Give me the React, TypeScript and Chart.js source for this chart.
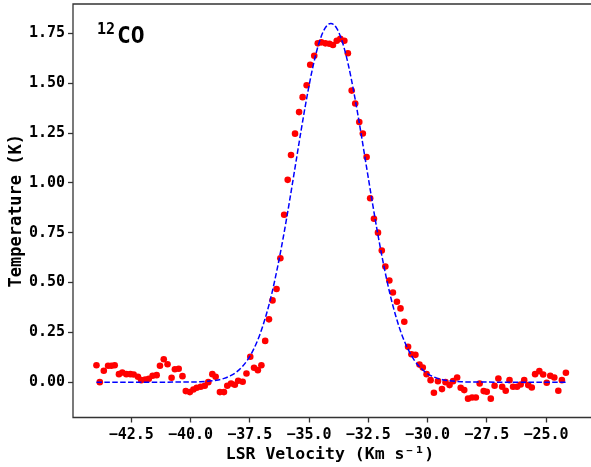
import React, { useEffect, useRef } from "react";
import { Chart, registerables } from "chart.js";

Chart.register(...registerables);

const obsVelocity: number[] = [
  -43.97, -43.83, -43.66, -43.48, -43.34, -43.2, -43.02, -42.88, -42.71, -42.54,
  -42.4, -42.22, -42.08, -41.91, -41.76, -41.6, -41.43, -41.29, -41.13, -40.97,
  -40.8, -40.66, -40.5, -40.34, -40.2, -40.03, -39.88, -39.74, -39.57, -39.4,
  -39.25, -39.08, -38.94, -38.76, -38.59, -38.45, -38.29, -38.13, -37.99, -37.8,
  -37.64, -37.48, -37.32, -37.16, -37.01, -36.85, -36.69, -36.54, -36.37, -36.21,
  -36.05, -35.9, -35.76, -35.59, -35.42, -35.27, -35.1, -34.95, -34.78, -34.63,
  -34.48, -34.31, -34.14, -33.99, -33.83, -33.68, -33.51, -33.36, -33.2, -33.05,
  -32.88, -32.73, -32.57, -32.42, -32.26, -32.09, -31.93, -31.78, -31.61, -31.46,
  -31.29, -31.14, -30.98, -30.82, -30.68, -30.51, -30.34, -30.2, -30.04, -29.87,
  -29.73, -29.56, -29.39, -29.24, -29.07, -28.92, -28.75, -28.6, -28.45, -28.29,
  -28.12, -27.96, -27.8, -27.63, -27.5, -27.33, -27.17, -27.01, -26.85, -26.7,
  -26.54, -26.39, -26.22, -26.07, -25.92, -25.75, -25.6, -25.46, -25.28, -25.12,
  -24.97, -24.82, -24.65, -24.48, -24.33, -24.16,
];

const obsTemperature: number[] = [
  0.085, 0.0, 0.057, 0.082, 0.082, 0.085, 0.04, 0.048, 0.04, 0.04,
  0.038, 0.027, 0.01, 0.013, 0.017, 0.032, 0.035, 0.082, 0.115, 0.09,
  0.022, 0.065, 0.067, 0.03, -0.045, -0.05, -0.037, -0.028, -0.023, -0.018,
  0.0, 0.04, 0.027, -0.05, -0.05, -0.018, -0.007, -0.013, 0.007, 0.002,
  0.043, 0.127, 0.072, 0.06, 0.085, 0.207, 0.315, 0.41, 0.467, 0.622,
  0.84, 1.015, 1.14, 1.247, 1.355, 1.43, 1.49, 1.593, 1.638, 1.7,
  1.705, 1.7, 1.698, 1.692, 1.713, 1.723, 1.713, 1.65, 1.463, 1.398,
  1.305, 1.248, 1.13, 0.923, 0.82, 0.75, 0.66, 0.58, 0.51, 0.45,
  0.403, 0.37, 0.303, 0.177, 0.14, 0.137, 0.088, 0.073, 0.04, 0.01,
  -0.053, 0.005, -0.035, 0.0, -0.015, 0.005, 0.023, -0.028, -0.04, -0.083,
  -0.077, -0.077, -0.007, -0.045, -0.048, -0.083, -0.018, 0.018, -0.023, -0.043,
  0.01, -0.023, -0.023, -0.012, 0.01, -0.015, -0.027, 0.04, 0.055, 0.038,
  -0.003, 0.032, 0.023, -0.043, 0.01, 0.047,
];

const fitVelocity: number[] = [
  -43.97, -41.08, -40.08, -39.58, -39.08, -38.83, -38.58, -38.33, -38.08, -37.83,
  -37.58, -37.33, -37.08, -36.83, -36.58, -36.33, -36.08, -35.83, -35.58, -35.33,
  -35.08, -34.83, -34.58, -34.33, -34.08, -33.83, -33.58, -33.33, -33.08, -32.83,
  -32.58, -32.33, -32.08, -31.83, -31.58, -31.33, -31.08, -30.83, -30.58, -30.33,
  -30.08, -29.83, -29.58, -29.33, -29.08, -28.58, -28.08, -27.08, -24.16,
];

const fitTemperature: number[] = [
  0.0, 0.0, 0.0005, 0.002, 0.0065, 0.011, 0.019, 0.031, 0.049, 0.076,
  0.114, 0.167, 0.237, 0.328, 0.44, 0.576, 0.731, 0.903, 1.084, 1.266,
  1.437, 1.586, 1.702, 1.775, 1.8, 1.775, 1.702, 1.586, 1.437, 1.266,
  1.084, 0.903, 0.731, 0.576, 0.44, 0.328, 0.237, 0.167, 0.114, 0.076,
  0.049, 0.031, 0.019, 0.011, 0.0065, 0.002, 0.0005, 0.0, 0.0,
];

const xTickValues: number[] = [-42.5, -40.0, -37.5, -35.0, -32.5, -30.0, -27.5, -25.0];
const yTickValues: number[] = [0, 0.25, 0.5, 0.75, 1.0, 1.25, 1.5, 1.75];

const MONO = '"DejaVu Sans Mono", monospace';

const fmt = (v: number, d: number) => v.toFixed(d).replace("-", "\u2212");

const framePlugin = {
  id: "frameAndLabel",
  afterDatasetsDraw(chart: any) {
    const { ctx, chartArea: a } = chart;
    const w = chart.width;
    ctx.save();
    ctx.strokeStyle = "#333333";
    ctx.lineWidth = 1.3;
    ctx.beginPath();
    ctx.moveTo(w + 2, a.top);
    ctx.lineTo(a.left, a.top);
    ctx.lineTo(a.left, a.bottom);
    ctx.lineTo(w + 2, a.bottom);
    ctx.stroke();
    ctx.fillStyle = "#000000";
    ctx.textBaseline = "alphabetic";
    ctx.textAlign = "left";
    ctx.font = `bold 15px ${MONO}`;
    ctx.fillText("12", a.left + 24, a.top + 29.5);
    ctx.font = `bold 23px ${MONO}`;
    ctx.fillText("CO", a.left + 44, a.top + 38.5);
    ctx.restore();
  },
};

export default function App() {
  const ref = useRef<HTMLCanvasElement | null>(null);

  useEffect(() => {
    if (!ref.current) return;
    const chart = new Chart(ref.current, {
      type: "scatter",
      data: {
        datasets: [
          {
            type: "line",
            label: "fit",
            data: fitVelocity.map((x, i) => ({ x, y: fitTemperature[i] })),
            borderColor: "#0000ff",
            borderWidth: 1.5,
            borderDash: [5.5, 2.4],
            pointRadius: 0,
            fill: false,
            cubicInterpolationMode: "monotone",
            order: 0,
          } as any,
          {
            type: "scatter",
            label: "data",
            data: obsVelocity.map((x, i) => ({ x, y: obsTemperature[i] })),
            backgroundColor: "#ff0000",
            borderWidth: 0,
            pointRadius: 3.3,
            order: 1,
          },
        ],
      },
      options: {
        animation: false,
        responsive: false,
        layout: { padding: { top: 2.5, right: 1, left: 0, bottom: 0 } },
        plugins: { legend: { display: false }, tooltip: { enabled: false } },
        scales: {
          x: {
            type: "linear",
            min: -44.96,
            max: -23.27,
            afterBuildTicks: (s: any) => {
              s.ticks = xTickValues.map((v) => ({ value: v }));
            },
            afterFit: (s: any) => {
              s.height = 49.5;
              s.paddingLeft = 0;
              s.paddingRight = 0;
            },
            grid: {
              display: true,
              drawOnChartArea: false,
              drawTicks: true,
              tickLength: 5,
              tickWidth: 1.3,
              tickColor: "#333333",
            },
            border: { display: false },
            ticks: {
              autoSkip: false,
              maxRotation: 0,
              padding: 4,
              color: "#000000",
              font: { family: MONO, size: 15, weight: "bold" },
              callback: (v: any) => fmt(Number(v), 1),
            },
            title: {
              display: true,
              text: "LSR Velocity (Km s\u207B\u00B9)",
              color: "#000000",
              font: { family: MONO, size: 16.5, weight: "bold" },
              padding: { top: 0, bottom: 2.5 },
            },
          },
          y: {
            type: "linear",
            min: -0.1775,
            max: 1.8975,
            afterBuildTicks: (s: any) => {
              s.ticks = yTickValues.map((v) => ({ value: v }));
            },
            afterFit: (s: any) => {
              s.width = 73;
              s.paddingTop = 0;
              s.paddingBottom = 0;
            },
            grid: {
              display: true,
              drawOnChartArea: false,
              drawTicks: true,
              tickLength: 5,
              tickWidth: 1.3,
              tickColor: "#333333",
            },
            border: { display: false },
            ticks: {
              autoSkip: false,
              padding: 3,
              color: "#000000",
              font: { family: MONO, size: 15, weight: "bold" },
              callback: (v: any) => fmt(Number(v), 2),
            },
            title: {
              display: true,
              text: "Temperature (K)",
              color: "#000000",
              font: { family: MONO, size: 17, weight: "bold" },
              padding: { top: 6, bottom: 0 },
            },
          },
        },
      },
      plugins: [framePlugin],
    });
    return () => chart.destroy();
  }, []);

  return (
    <div style={{ position: "fixed", left: 0, top: 0, width: 591, height: 467, background: "#ffffff" }}>
      <canvas ref={ref} width={591} height={467} style={{ display: "block", width: 591, height: 467 }} />
    </div>
  );
}
